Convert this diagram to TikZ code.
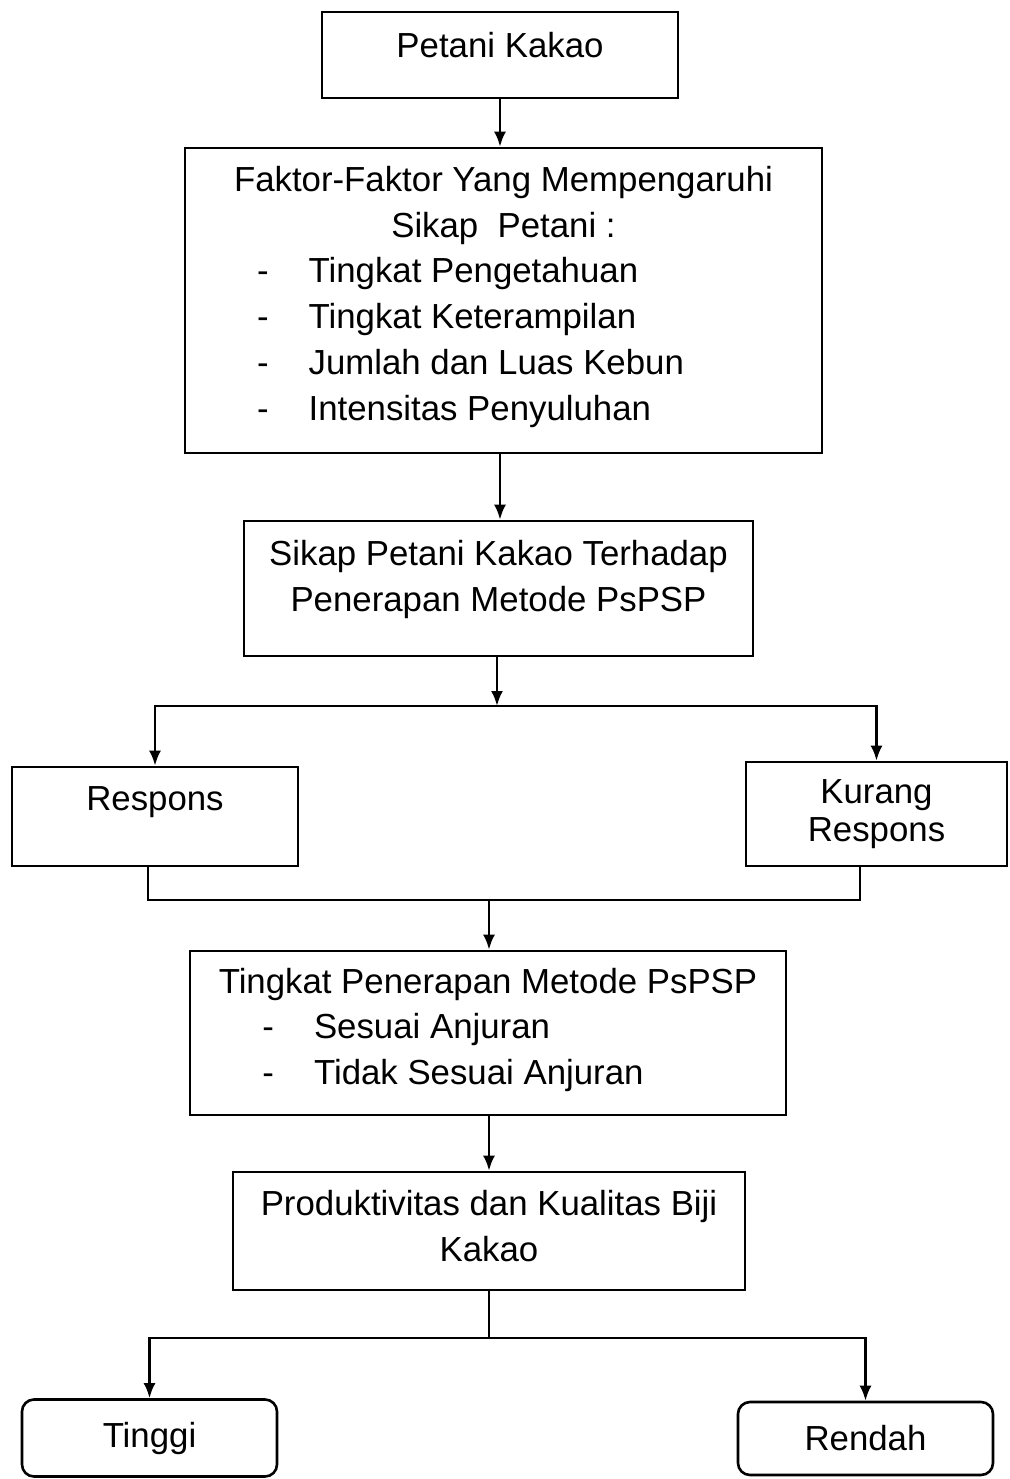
\documentclass[tikz,border=0pt]{standalone}
\usepackage{fontspec}
\setmainfont{Liberation Sans}
\usetikzlibrary{shapes,arrows,arrows.meta,positioning}
\tikzstyle{block} = [draw, rectangle, line width=1.3pt, inner sep=0pt,
    align=center]
\tikzstyle{result} = [block, rounded corners=6pt]
\tikzstyle{line} = [draw, line width=1.3pt]

\begin{document}
\begin{tikzpicture}[x=0.5pt, y=-0.5pt, >={Latex[length=7.5pt,width=6pt]},
    line width=1.3pt, font=\fontsize{17.4}{23}\selectfont]
    \useasboundingbox (0,0) rectangle (1009,1479);
    % We start by placing the blocks
    \node [block, minimum width=178pt, minimum height=43pt,
            text depth=10pt] (petani) at (500,55) {Petani Kakao};
    \node [block, minimum width=318.5pt, minimum height=152.5pt]
            (faktor) at (503.5,300.5) {Faktor-Faktor Yang Mempengaruhi\\
        Sikap\ \ Petani :\\[2pt]
        \begin{tabular}{@{}l@{\hspace{20pt}}l@{}}
        - & Tingkat Pengetahuan\\
        - & Tingkat Keterampilan\\
        - & Jumlah dan Luas Kebun\\
        - & Intensitas Penyuluhan
        \end{tabular}\hspace*{33pt}};
    \node [block, minimum width=254.5pt, minimum height=67.5pt,
            text depth=13pt] (sikap) at (498.5,588.5)
            {Sikap Petani Kakao Terhadap\\ Penerapan Metode PsPSP};
    \node [block, minimum width=143pt, minimum height=49.5pt,
            text depth=18pt] (respons) at (155,816.5) {Respons};
    \node [block, minimum width=130.5pt, minimum height=52pt]
            (kurang) at (876.5,814) {Kurang\\[-4pt] Respons};
    \node [block, minimum width=298pt, minimum height=82pt]
            (tingkat) at (488,1033) {Tingkat Penerapan Metode PsPSP\\[2pt]
        \begin{tabular}{@{}l@{\hspace{20pt}}l@{}}
        - & Sesuai Anjuran\\
        - & Tidak Sesuai Anjuran
        \end{tabular}\hspace*{35pt}};
    \node [block, minimum width=256pt, minimum height=59pt,
            text depth=5pt] (produk) at (489,1231)
            {Produktivitas dan Kualitas Biji\\ Kakao};
    \node [result, minimum width=127.5pt, minimum height=38.5pt]
            (tinggi) at (149.5,1438) {Tinggi};
    \node [result, minimum width=127.5pt, minimum height=36.5pt]
            (rendah) at (865.5,1438.5) {Rendah};

    % Branch and merge points between the blocks
    \coordinate (split1) at (497,706);
    \coordinate (mergeL) at (148,900);
    \coordinate (mergeR) at (860,900);
    \coordinate (merge) at (489,900);
    \coordinate (split2) at (489,1338);

    % Once the nodes are placed, connecting them is easy.
    \draw [->] (petani) -- (faktor.north -| petani);
    \draw [->] (faktor.south -| petani) -- (sikap.north -| petani);
    \draw [->] (sikap.south -| split1) -- (split1);
    \draw [->] (split1) -| (respons);
    \draw [->] (split1) -| (kurang);
    \draw [line] (mergeL |- respons.south) -- (mergeL) -- (mergeR)
        -- (mergeR |- kurang.south);
    \draw [->] (merge) -- (merge |- tingkat.north);
    \draw [->] (tingkat.south -| produk) -- (produk);
    \draw [line] (produk) -- (split2);
    \draw [->] (split2) -| (tinggi);
    \draw [->] (split2) -| (rendah);
\end{tikzpicture}
\end{document}
